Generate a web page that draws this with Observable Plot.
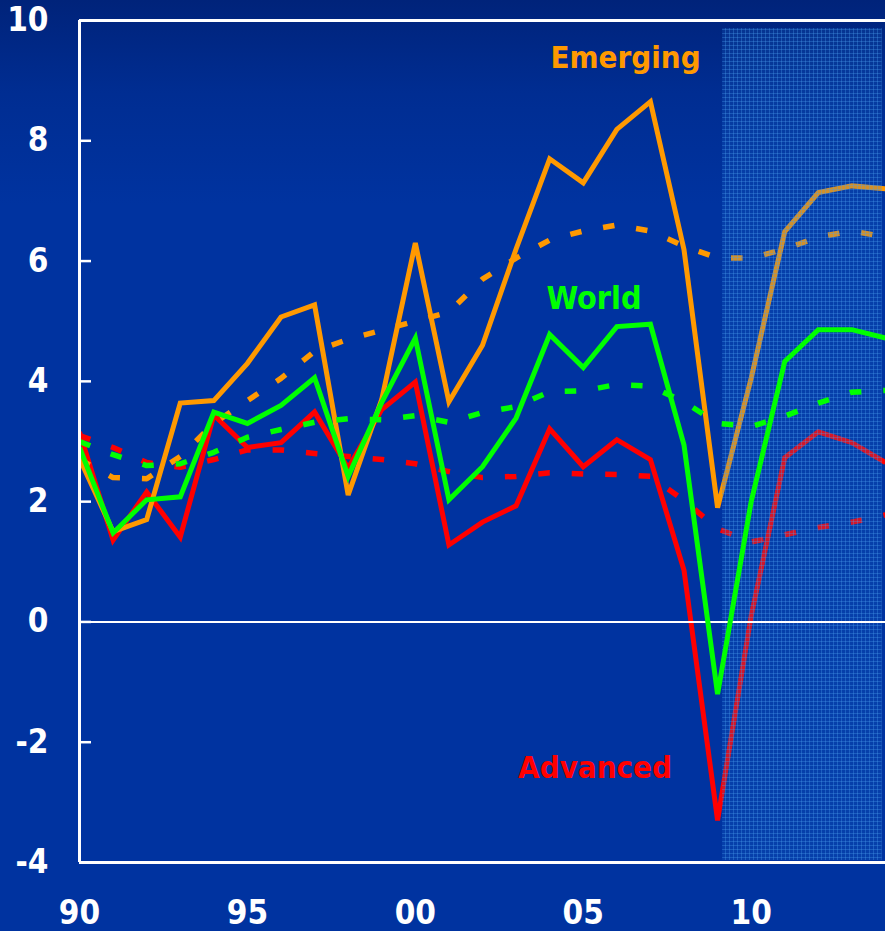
<!DOCTYPE html>
<html>
<head>
<meta charset="utf-8">
<script src="https://cdn.jsdelivr.net/npm/d3@7"></script>
<script src="https://cdn.jsdelivr.net/npm/@observablehq/plot@0.6"></script>
<style>
  html, body { margin: 0; padding: 0; background: #0033a0; }
  #chart svg { display: block; }
</style>
</head>
<body>
<div id="chart"></div>
<script>
// Real GDP growth, percent: actual outturns (solid) and long-run trend (dashed)
const years = [1990, 1991, 1992, 1993, 1994, 1995, 1996, 1997, 1998, 1999,
               2000, 2001, 2002, 2003, 2004, 2005, 2006, 2007, 2008, 2009,
               2010, 2011, 2012, 2013, 2014];

const emerging = [2.72, 1.5, 1.7, 3.64, 3.68, 4.3, 5.07, 5.27, 2.11, 3.7,
                  6.3, 3.66, 4.6, 6.2, 7.7, 7.3, 8.19, 8.65, 6.19, 1.9,
                  4.05, 6.49, 7.14, 7.25, 7.2];
const world = [2.9, 1.48, 2.03, 2.08, 3.49, 3.3, 3.6, 4.06, 2.42, 3.65,
               4.72, 2.03, 2.58, 3.39, 4.78, 4.23, 4.91, 4.95, 2.94, -1.2,
               2.0, 4.33, 4.86, 4.86, 4.72];
const advanced = [3.16, 1.36, 2.16, 1.41, 3.44, 2.9, 2.98, 3.49, 2.56, 3.53,
                  3.99, 1.28, 1.66, 1.93, 3.21, 2.58, 3.03, 2.7, 0.86, -3.3,
                  0.1, 2.73, 3.16, 2.98, 2.65];

const emergingTrend = [2.7, 2.4, 2.38, 2.75, 3.3, 3.68, 4.05, 4.5, 4.7, 4.85,
                       5.0, 5.15, 5.7, 6.05, 6.35, 6.5, 6.6, 6.5, 6.25, 6.05,
                       6.05, 6.2, 6.4, 6.5, 6.4];
const worldTrend = [3.0, 2.78, 2.6, 2.63, 2.82, 3.07, 3.2, 3.32, 3.38, 3.36,
                    3.43, 3.32, 3.48, 3.58, 3.83, 3.84, 3.95, 3.92, 3.66, 3.3,
                    3.25, 3.42, 3.64, 3.82, 3.85];
const advancedTrend = [3.1, 2.9, 2.65, 2.57, 2.7, 2.86, 2.86, 2.8, 2.75, 2.7,
                       2.63, 2.5, 2.4, 2.42, 2.48, 2.46, 2.45, 2.42, 2.02, 1.55,
                       1.33, 1.45, 1.57, 1.66, 1.78];

const seriesNames = ["Emerging", "World", "Advanced"];
const seriesColors = ["#ff9900", "#00ff00", "#ff0000"];
const yTicks = [-4, -2, 0, 2, 4, 6, 8, 10];
const xTicks = [1990, 1995, 2000, 2005, 2010];
const forecastSpan = [2009.15, 2013.9];

const toRows = (values) => years.map((year, i) => ({year, value: values[i]}));

const W = 885, H = 931, ML = 79, MR = 0, MT = 20, MB = 69;
const font = "'DejaVu Sans Condensed', 'DejaVu Sans', sans-serif";
const white = "#ffffff";

const solid = (values, color) =>
  Plot.line(toRows(values), {x: "year", y: "value", stroke: color, strokeWidth: 5,
    strokeLinejoin: "miter", strokeMiterlimit: 3, strokeLinecap: "butt", clip: true});
const dashed = (values, color) =>
  Plot.line(toRows(values), {x: "year", y: "value", stroke: color, strokeWidth: 5.5,
    strokeLinecap: "butt", strokeDasharray: "11.5,22", clip: true});

const chart = Plot.plot({
  width: W,
  height: H,
  marginLeft: ML,
  marginRight: MR,
  marginTop: MT,
  marginBottom: MB,
  style: {
    background: "linear-gradient(#00237a 0%, #002d92 10%, #0033a0 22%, #0033a0 100%)",
    fontFamily: font,
    fontStretch: "condensed",
    color: white
  },
  x: {domain: [1990, 2014]},
  y: {domain: [-4, 10]},
  marks: [
    // Advanced and emerging economies sit under the forecast shading
    dashed(advancedTrend, seriesColors[2]),
    solid(advanced, seriesColors[2]),
    dashed(emergingTrend, seriesColors[0]),
    solid(emerging, seriesColors[0]),

    // Forecast period
    Plot.rect([forecastSpan], {x1: d => d[0], x2: d => d[1], y1: -4, y2: 10,
      insetTop: 8, insetBottom: 2, fill: "url(#forecast-dots)"}),

    Plot.ruleY([0], {stroke: white, strokeWidth: 2}),

    // World on top
    dashed(worldTrend, seriesColors[1]),
    solid(world, seriesColors[1]),

    // Frame
    Plot.ruleX([1990], {stroke: white, strokeWidth: 3}),
    Plot.ruleY([yTicks[0], yTicks[yTicks.length - 1]], {stroke: white, strokeWidth: 3}),
    Plot.tickY(yTicks, {y: d => d, stroke: white, strokeWidth: 2.5, insetRight: W - ML - MR - 12}),

    // Series labels
    Plot.text([seriesNames[0]], {x: 2006.26, y: 9.38, text: d => d, fill: seriesColors[0],
      fontSize: 31, fontWeight: "bold", fontFamily: font}),
    Plot.text([seriesNames[1]], {x: 2005.32, y: 5.38, text: d => d, fill: seriesColors[1],
      fontSize: 32, fontWeight: "bold", fontFamily: font}),
    Plot.text([seriesNames[2]], {x: 2005.35, y: -2.43, text: d => d, fill: seriesColors[2],
      fontSize: 31, fontWeight: "bold", fontFamily: font}),

    // Axes
    Plot.axisY(yTicks, {tickSize: 0, tickPadding: 31, fontSize: 33, fontWeight: "bold",
      fill: white, fontFamily: font, tickFormat: d => String(d), label: null}),
    Plot.axisX(xTicks, {tickSize: 0, tickPadding: 38, fontSize: 33, fontWeight: "bold",
      fill: white, fontFamily: font, tickFormat: d => String(d).slice(2), label: null})
  ]
});

// Dotted screen used for the forecast period
const ns = "http://www.w3.org/2000/svg";
const defs = document.createElementNS(ns, "defs");
const pattern = document.createElementNS(ns, "pattern");
pattern.setAttribute("id", "forecast-dots");
pattern.setAttribute("patternUnits", "userSpaceOnUse");
pattern.setAttribute("width", 4);
pattern.setAttribute("height", 4);
const cell = [
  {x: 0, y: 0, w: 4, h: 4, fill: "#1f6cd0", op: 0.2},
  {x: 0, y: 1, w: 4, h: 1, fill: "#4c9ef2", op: 0.32},
  {x: 1, y: 0, w: 1, h: 4, fill: "#4c9ef2", op: 0.32}
];
for (const c of cell) {
  const r = document.createElementNS(ns, "rect");
  r.setAttribute("x", c.x);
  r.setAttribute("y", c.y);
  r.setAttribute("width", c.w);
  r.setAttribute("height", c.h);
  r.setAttribute("fill", c.fill);
  r.setAttribute("fill-opacity", c.op);
  pattern.appendChild(r);
}
defs.appendChild(pattern);
chart.insertBefore(defs, chart.firstChild);

document.getElementById("chart").appendChild(chart);
</script>
</body>
</html>
